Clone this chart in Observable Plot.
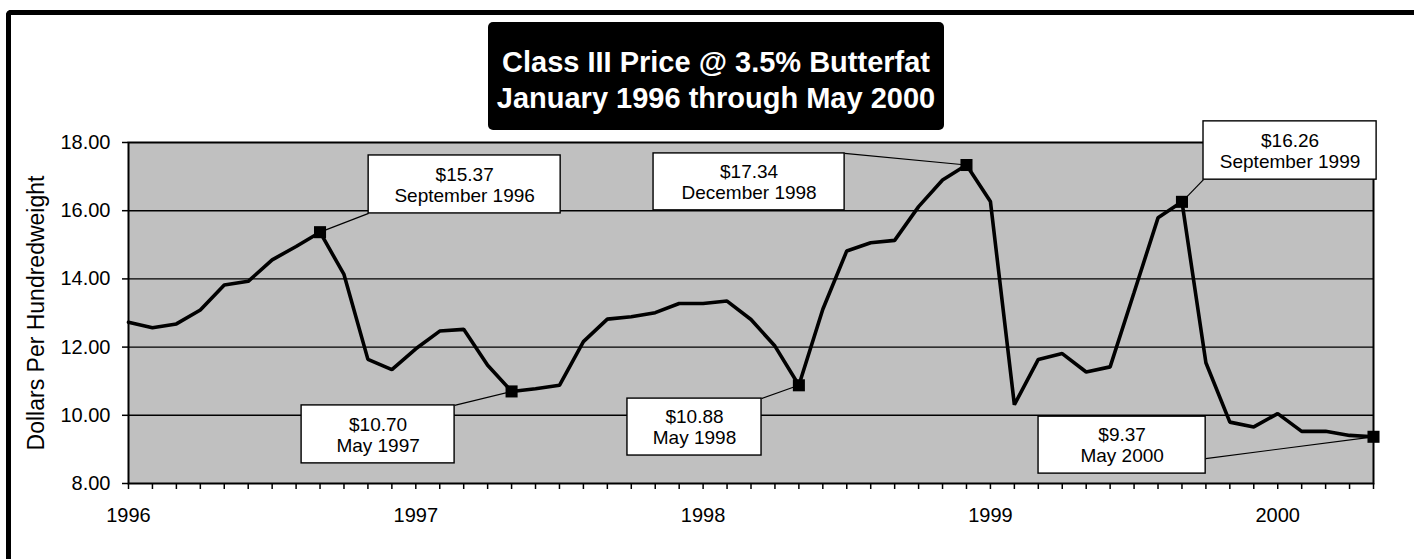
<!DOCTYPE html>
<html>
<head>
<meta charset="utf-8">
<script src="https://cdn.jsdelivr.net/npm/d3@7"></script>
<script src="https://cdn.jsdelivr.net/npm/@observablehq/plot@0.6"></script>
<style>
  html, body { margin: 0; padding: 0; background: white; overflow: hidden; }
  #wrap { position: relative; width: 1414px; height: 559px; overflow: hidden; font-family: "Liberation Sans", Arial, sans-serif; }
  #chart { position: absolute; left: 0; top: 0; }
  #frameTop { position: absolute; left: 6px; top: 10px; width: 1420px; height: 4.5px; background: black; border-top-left-radius: 5px; pointer-events: none; }
  #frameLeft { position: absolute; left: 6px; top: 10px; width: 4.5px; height: 560px; background: black; border-top-left-radius: 5px; pointer-events: none; }
  #title { position: absolute; left: 488px; top: 22px; width: 456px; height: 108px; box-sizing: border-box; padding-top: 22px;
           background: black; color: white; border-radius: 5px; text-align: center; font-weight: bold; font-size: 29px; line-height: 36px; }
</style>
</head>
<body>
<div id="wrap">
  <div id="chart"></div>
  <div id="title"></div>
  <div id="frameTop"></div>
  <div id="frameLeft"></div>
</div>
<script>
// ---- data ----
const titleLines = ["Class III Price @ 3.5% Butterfat", "January 1996 through May 2000"];
const yAxisLabel = "Dollars Per Hundredweight";
const startYear = 1996;
const yearLabels = ["1996", "1997", "1998", "1999", "2000"];
const prices1996 = [12.73, 12.57, 12.68, 13.09, 13.82, 13.93, 14.56, 14.95, 15.37, 14.13, 11.64, 11.34];
const prices1997 = [11.95, 12.47, 12.52, 11.47, 10.70, 10.78, 10.88, 12.16, 12.82, 12.89, 13.01, 13.28];
const prices1998 = [13.28, 13.35, 12.81, 12.03, 10.88, 13.11, 14.82, 15.06, 15.13, 16.12, 16.90, 17.34];
const prices1999 = [16.27, 10.31, 11.64, 11.81, 11.27, 11.42, 13.60, 15.79, 16.26, 11.54, 9.80, 9.66];
const prices2000 = [10.05, 9.53, 9.53, 9.41, 9.37];
const yTicks = [8, 10, 12, 14, 16, 18];

// highlighted points (month index from Jan 1996) and their callout text
const calloutMonths = [8, 16, 28, 35, 44, 52];
const calloutTexts = ["$15.37\nSeptember 1996", "$10.70\nMay 1997", "$10.88\nMay 1998",
                      "$17.34\nDecember 1998", "$16.26\nSeptember 1999", "$9.37\nMay 2000"];

// callout box placement in data units [x1, x2, y1, y2] and leader start [x, y]
const calloutBoxes = [[10.03, 18.05, 15.92, 17.62], [7.23, 13.62, 8.59, 10.29], [20.84, 26.44, 8.82, 10.49],
                      [21.93, 29.91, 16.01, 17.68], [44.90, 52.13, 16.91, 18.62], [38.01, 44.99, 8.29, 9.96]];
const leaderStarts = [[10.03, 15.92], [13.62, 10.29], [26.44, 10.49], [29.91, 17.68], [44.90, 16.91], [44.99, 8.73]];

// ---- build ----
const prices = [...prices1996, ...prices1997, ...prices1998, ...prices1999, ...prices2000];
const series = prices.map((p, i) => ({i, price: p}));
const callouts = calloutMonths.map((m, k) => ({
  i: m, price: prices[m], text: calloutTexts[k],
  x1: calloutBoxes[k][0], x2: calloutBoxes[k][1], y1: calloutBoxes[k][2], y2: calloutBoxes[k][3],
  cx: (calloutBoxes[k][0] + calloutBoxes[k][1]) / 2, cy: (calloutBoxes[k][2] + calloutBoxes[k][3]) / 2,
  lx: leaderStarts[k][0], ly: leaderStarts[k][1]
}));

document.getElementById("title").innerHTML = titleLines.join("<br>");

const chart = Plot.plot({
  width: 1414,
  height: 559,
  marginLeft: 128,
  marginRight: 41,
  marginTop: 142,
  marginBottom: 76,
  style: {fontFamily: "'Liberation Sans', Arial, sans-serif", fontSize: "20px", color: "black", background: "transparent"},
  x: {type: "linear", domain: [0, prices.length - 1]},
  y: {domain: [8, 18]},
  marks: [
    Plot.frame({fill: "#c0c0c0"}),
    Plot.ruleY([10, 12, 14, 16], {stroke: "black", strokeWidth: 1.4}),
    Plot.frame({stroke: "black", strokeWidth: 2}),
    Plot.axisY({ticks: yTicks, tickSize: 6, tickPadding: 12, tickFormat: d => d.toFixed(2), label: null, fontSize: 20, strokeWidth: 1.5}),
    Plot.axisX({ticks: d3.range(prices.length), tickSize: 6, tickPadding: 18, label: null, fontSize: 20, strokeWidth: 1.5,
                tickFormat: i => (i % 12 === 0 ? yearLabels[i / 12] : "")}),
    Plot.text([yAxisLabel], {frameAnchor: "left", textAnchor: "middle", rotate: -90, dx: -92, fontSize: 23, fill: "black"}),
    Plot.link(callouts, {x1: "lx", y1: "ly", x2: "i", y2: "price", stroke: "black", strokeWidth: 1.2}),
    Plot.line(series, {x: "i", y: "price", stroke: "black", strokeWidth: 3.6, strokeLinejoin: "miter"}),
    Plot.dot(callouts, {x: "i", y: "price", symbol: "square", r: 6.8, fill: "black", stroke: "none"}),
    Plot.rect(callouts, {x1: "x1", x2: "x2", y1: "y1", y2: "y2", fill: "white", stroke: "black", strokeWidth: 1.4}),
    Plot.text(callouts, {x: "cx", y: "cy", text: "text", fontSize: 19, lineHeight: 1.1, fill: "black", textAnchor: "middle"})
  ]
});
document.getElementById("chart").appendChild(chart);
</script>
</body>
</html>
